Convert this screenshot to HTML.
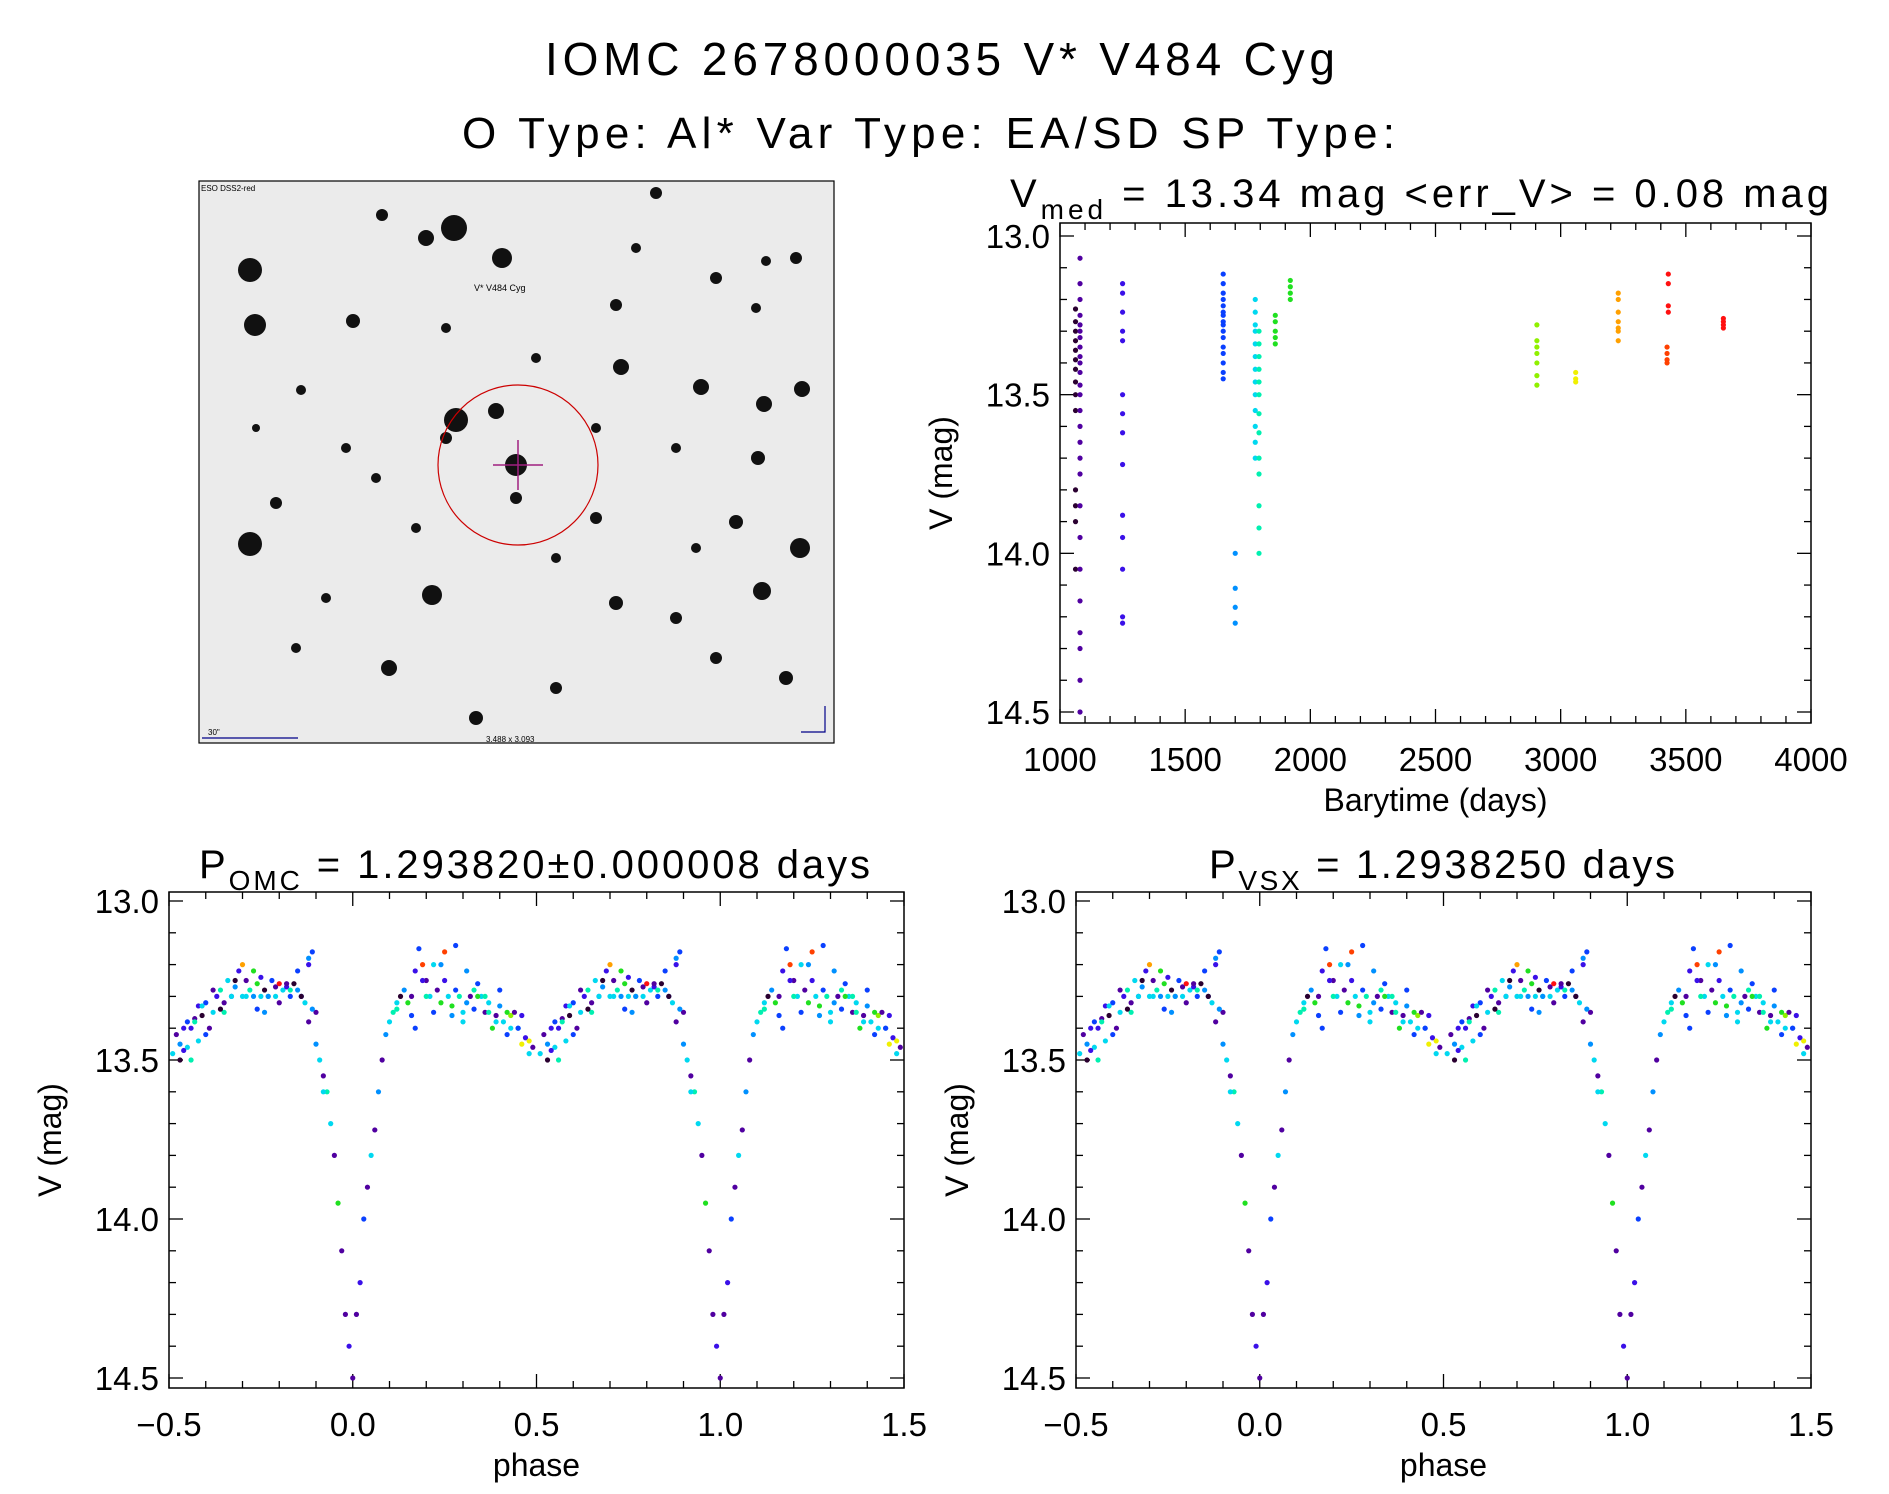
<!DOCTYPE html>
<html><head><meta charset="utf-8"><style>
body{margin:0;background:#fff}
svg{display:block}
text{font-family:"Liberation Sans",sans-serif;fill:#000}
</style></head><body>
<svg id="fig" width="1889" height="1494" viewBox="0 0 1889 1494" xmlns="http://www.w3.org/2000/svg">
<text x="545" y="75" font-size="46" textLength="790" lengthAdjust="spacing">IOMC 2678000035    V* V484 Cyg</text>
<text x="462" y="148" font-size="44" textLength="933" lengthAdjust="spacing">O Type: Al*  Var Type: EA/SD  SP Type:</text>
<g id="img"></g>
<g id="p1"></g>
<g id="p2"></g>
<g id="p3"></g>
</svg>
<script>
const NS="http://www.w3.org/2000/svg";
const colors=["#2a0030","#5000a0","#3a10e8","#0a40ff","#0090ff","#00d8f0","#00f0b0","#20e020","#90f000","#f0f000","#ffa000","#ff4000","#ff1010"];
// time series data
const tsTimes=[1062,1062,1062,1062,1062,1062,1062,1062,1062,1062,1062,1062,1062,1062,
1080,1080,1080,1080,1080,1080,1080,1080,1080,1080,1080,1080,1080,1080,1080,1080,1080,1080,1080,1080,1080,1080,1080,1080,1080,1080,
1250,1250,1250,1250,1250,1250,1250,1250,1250,1250,1250,1250,1250,1250,
1652,1652,1652,1652,1652,1652,1652,1652,1652,1652,1652,1652,1652,1652,1652,1652,
1700,1700,1700,1700,
1780,1780,1780,1780,1780,1780,1780,1780,1780,1780,1780,1780,1780,
1795,1795,1795,1795,1795,1795,1795,1795,1795,1795,1795,1795,1795,
1860,1860,1860,1860,1860,1920,1920,1920,1920,
2905,2905,2905,2905,2905,2905,2905,3060,3060,3060,
3230,3230,3230,3230,3230,3230,3230,3425,3425,3425,3425,3430,3430,3430,3430,3650,3650,3650,3650];
const tsMags=[13.23,13.27,13.3,13.33,13.36,13.39,13.42,13.46,13.5,13.55,13.8,13.85,13.9,14.05,
13.07,13.15,13.2,13.25,13.28,13.3,13.32,13.35,13.38,13.4,13.43,13.47,13.5,13.55,13.6,13.65,13.7,13.75,13.85,13.95,14.05,14.15,14.25,14.3,14.4,14.5,
13.15,13.18,13.24,13.3,13.33,13.5,13.56,13.62,13.72,13.88,13.95,14.05,14.2,14.22,
13.12,13.15,13.18,13.2,13.22,13.25,13.27,13.3,13.32,13.35,13.37,13.4,13.43,13.45,13.28,13.24,
14.0,14.11,14.17,14.22,
13.2,13.24,13.28,13.3,13.34,13.38,13.42,13.46,13.5,13.55,13.6,13.65,13.7,
13.3,13.34,13.38,13.42,13.46,13.5,13.56,13.62,13.7,13.75,13.85,13.92,14.0,
13.25,13.27,13.3,13.32,13.34,13.14,13.16,13.18,13.2,
13.28,13.33,13.35,13.37,13.4,13.44,13.47,13.43,13.45,13.46,
13.18,13.2,13.24,13.27,13.29,13.3,13.33,13.35,13.37,13.39,13.4,13.12,13.15,13.22,13.24,13.26,13.27,13.28,13.29];
const tsGroup=[0,0,0,0,0,0,0,0,0,0,0,0,0,0,1,1,1,1,1,1,1,1,1,1,1,1,1,1,1,1,1,1,1,1,1,1,1,1,1,1,
2,2,2,2,2,2,2,2,2,2,2,2,2,2,3,3,3,3,3,3,3,3,3,3,3,3,3,3,3,3,4,4,4,4,
5,5,5,5,5,5,5,5,5,5,5,5,5,6,6,6,6,6,6,6,6,6,6,6,6,6,7,7,7,7,7,7,7,7,7,
8,8,8,8,8,8,8,9,9,9,10,10,10,10,10,10,10,11,11,11,11,12,12,12,12,12,12,12,12];
const tsXTicks=[1000,1500,2000,2500,3000,3500,4000];
const magTicks=[13.0,13.5,14.0,14.5];
// phase-folded data (phase in [-0.5,0.5))
const phPhase=[-0.49,-0.48,-0.47,-0.46,-0.45,-0.45,-0.44,-0.43,-0.42,-0.42,-0.41,-0.4,-0.39,-0.38,-0.37,-0.36,-0.35,-0.34,-0.33,-0.32,-0.31,-0.3,-0.3,-0.29,-0.28,-0.27,-0.26,-0.25,-0.25,-0.24,-0.23,-0.22,-0.21,-0.2,-0.19,-0.18,-0.17,-0.16,-0.15,-0.14,-0.13,-0.12,-0.12,-0.11,-0.1,-0.1,-0.09,-0.08,-0.07,-0.06,-0.05,-0.04,-0.03,-0.02,-0.01,0.0,0.01,0.02,0.03,0.04,0.05,0.06,0.07,0.08,0.09,0.1,0.11,0.12,0.13,0.14,0.15,0.16,0.17,0.18,0.19,0.2,0.21,0.22,0.23,0.24,0.25,0.26,0.27,0.28,0.29,0.3,0.31,0.32,0.33,0.34,0.35,0.36,0.37,0.38,0.39,0.4,0.41,0.42,0.43,0.44,0.45,0.46,0.47,0.48,0.49,
-0.47,-0.44,-0.41,-0.38,-0.35,-0.32,-0.29,-0.26,-0.23,-0.2,-0.17,-0.14,-0.11,-0.08,0.12,0.16,0.19,0.22,0.25,0.28,0.31,0.34,0.37,0.4,0.43,0.46,
-0.46,-0.43,-0.4,-0.36,-0.33,-0.27,-0.24,-0.21,-0.18,-0.15,-0.12,0.17,0.2,0.24,0.27,0.3,0.33,0.36,0.39,0.42,0.45,0.48];
const phMag=[13.48,13.42,13.45,13.4,13.46,13.38,13.5,13.37,13.44,13.33,13.36,13.32,13.4,13.35,13.3,13.28,13.32,13.25,13.3,13.27,13.22,13.3,13.2,13.25,13.28,13.3,13.26,13.24,13.3,13.28,13.3,13.25,13.27,13.26,13.28,13.27,13.3,13.26,13.28,13.3,13.32,13.2,13.38,13.16,13.35,13.45,13.5,13.55,13.6,13.7,13.8,13.95,14.1,14.3,14.4,14.5,14.3,14.2,14.0,13.9,13.8,13.72,13.6,13.5,13.42,13.38,13.35,13.32,13.3,13.28,13.32,13.3,13.22,13.15,13.2,13.25,13.3,13.35,13.28,13.2,13.25,13.3,13.33,13.28,13.3,13.35,13.32,13.3,13.28,13.26,13.3,13.35,13.32,13.4,13.36,13.33,13.38,13.42,13.36,13.35,13.4,13.45,13.43,13.48,13.46,
13.5,13.4,13.33,13.28,13.35,13.25,13.3,13.34,13.3,13.32,13.28,13.3,13.34,13.6,13.34,13.36,13.25,13.2,13.16,13.14,13.22,13.3,13.35,13.28,13.4,13.36,
13.47,13.38,13.42,13.34,13.3,13.22,13.35,13.3,13.26,13.22,13.18,13.4,13.3,13.32,13.36,13.38,13.34,13.3,13.38,13.35,13.4,13.44];
const phGroup=[5,1,4,2,5,3,6,1,5,2,0,3,1,5,2,6,1,5,3,4,2,5,10,1,6,4,7,2,5,0,6,3,1,12,5,2,3,0,4,3,5,2,1,3,1,4,5,1,6,5,1,7,1,1,2,1,1,2,3,1,5,1,4,1,4,5,6,5,0,4,7,1,2,3,11,1,5,3,1,4,2,5,7,3,6,5,4,1,6,3,5,1,5,7,1,4,5,3,8,1,4,9,2,5,1,
0,2,5,1,6,0,5,3,4,1,6,0,4,5,6,3,2,5,11,3,4,7,6,3,5,2,
2,6,3,0,5,7,4,5,1,3,4,3,6,7,4,5,3,6,5,7,3,9];
const phXTicks=[-0.5,0.0,0.5,1.0,1.5];

function el(tag,attrs,parent){const e=document.createElementNS(NS,tag);for(const k in attrs)e.setAttribute(k,attrs[k]);parent.appendChild(e);return e;}
function txt(parent,x,y,s,size,anchor,name){const t=el('text',{x:x,y:y,'font-size':size,'text-anchor':anchor||'middle'},parent);t.textContent=s;return t;}

function panel(g,box,xr,yr,xMajor,xMinor,xFmt,xTicks,xlabel){
  const sx=v=>box.l+(v-xr[0])/(xr[1]-xr[0])*(box.r-box.l);
  const sy=v=>box.y0+(v-yr[0])/(yr[1]-yr[0])*(box.y1-box.y0);
  const frame=el('rect',{x:box.l,y:box.t,width:box.r-box.l,height:box.b-box.t,fill:'none',stroke:'#000','stroke-width':1.5},g);
  
  
  for(let v=xr[0];v<=xr[1]+1e-9;v+=xMinor){
    const major=Math.abs(Math.round(v/xMajor)*xMajor-v)<1e-6;const L=major?14:7;const x=sx(v);
    el('line',{x1:x,x2:x,y1:box.b,y2:box.b-L,stroke:'#000','stroke-width':1.3},g);
    el('line',{x1:x,x2:x,y1:box.t,y2:box.t+L,stroke:'#000','stroke-width':1.3},g);
  }
  xTicks.forEach(v=>txt(g,sx(v),box.b+48,xFmt(v),33,'middle','x-tick-label'));
  for(let i=0;i<=15;i++){
    const v=13.0+i*0.1;const major=i%5==0;const L=major?14:7;const y=sy(v);
    el('line',{x1:box.l,x2:box.l+L,y1:y,y2:y,stroke:'#000','stroke-width':1.3},g);
    el('line',{x1:box.r,x2:box.r-L,y1:y,y2:y,stroke:'#000','stroke-width':1.3},g);
  }
  magTicks.forEach(v=>txt(g,box.l-10,sy(v)+12,v.toFixed(1),33,'end','y-tick-label'));
  txt(g,(box.l+box.r)/2,box.b+88,xlabel,32,'middle','x-axis-title');
  const yl=txt(g,0,0,'V (mag)',32,'middle','y-axis-title');
  yl.setAttribute('transform',`translate(${box.l-108},${(box.t+box.b)/2}) rotate(-90)`);
  return {sx,sy};
}
function dot(g,x,y,c){const d=el('circle',{cx:x,cy:y,r:2.6,fill:c},g);}

// time series
const g1=document.getElementById('p1');
const a1=panel(g1,{l:1060,r:1811,t:223,b:723,y0:236,y1:712},[1000,4000],[13.0,14.5],500,100,v=>String(v),tsXTicks,'Barytime (days)');
for(let i=0;i<tsTimes.length;i++)dot(g1,a1.sx(tsTimes[i]),a1.sy(tsMags[i]),colors[tsGroup[i]]);
const t1=txt(g1,1010,207,'',40,'start','vmed-title');
t1.setAttribute('textLength','819');t1.setAttribute('lengthAdjust','spacing');
t1.innerHTML='V<tspan font-size="28" dy="12">med</tspan><tspan dy="-12">  =  13.34  mag  &lt;err_V&gt;  =  0.08  mag</tspan>';

function phasePanel(id,l,r,title,sub,tx,tl){
  const g=document.getElementById(id);
  const a=panel(g,{l:l,r:r,t:892,b:1388,y0:901,y1:1378},[-0.5,1.5],[13.0,14.5],0.5,0.1,v=>(v<0?'\u2212':'')+Math.abs(v).toFixed(1),phXTicks,'phase');
  for(let i=0;i<phPhase.length;i++){
    [phPhase[i],phPhase[i]+1].forEach(p=>{if(p>=-0.5&&p<=1.5)dot(g,a.sx(p),a.sy(phMag[i]),colors[phGroup[i]]);});
  }
  const t=txt(g,tx,878,'',40,'start','period-title');
  t.setAttribute('textLength',tl);t.setAttribute('lengthAdjust','spacing');
  t.innerHTML='P<tspan font-size="28" dy="12">'+sub+'</tspan><tspan dy="-12">  =  '+title+'</tspan>';
}
phasePanel('p2',169,904,'1.293820\u00b10.000008  days','OMC',199,671);
phasePanel('p3',1076,1811,'1.2938250  days','VSX',1209,466);

// sky image
const gi=document.getElementById('img');
const bg=el('rect',{x:199,y:181,width:635,height:562,fill:'#ebebeb'},gi);

const stars=[[254,272,12],[259,327,11],[254,546,12],[804,550,10],[458,230,13],[506,260,10],[430,240,8],[460,422,12],[520,467,11],[500,413,8],[357,323,7],[436,597,10],[393,670,8],[625,369,8],[705,389,8],[768,406,8],[806,391,8],[762,460,7],[766,593,9],[740,524,7],[620,307,6],[386,217,6],[660,195,6],[770,263,5],[305,392,5],[280,505,6],[620,605,7],[680,620,6],[720,660,6],[520,500,6],[450,440,6],[540,360,5],[300,650,5],[330,600,5],[700,550,5],[600,520,6],[790,680,7],[560,690,6],[480,720,7],[420,530,5],[380,480,5],[680,450,5],[640,250,5],[720,280,6],[260,430,4],[350,450,5],[600,430,5],[560,560,5],[760,310,5],[450,330,5],[800,260,6]];
stars.forEach(s=>{const c=el('circle',{cx:s[0]-4,cy:s[1]-2,r:s[2],fill:'#111'},gi);});
el('rect',{x:199,y:181,width:635,height:562,fill:'none',stroke:'#000','stroke-width':1.2},gi);
el('circle',{cx:518,cy:465,r:80,fill:'none',stroke:'#c00','stroke-width':1.2},gi);
el('line',{x1:493,x2:543,y1:465,y2:465,stroke:'#a02080','stroke-width':1.5},gi);
el('line',{x1:518,x2:518,y1:440,y2:490,stroke:'#a02080','stroke-width':1.5},gi);
txt(gi,474,291,'V* V484 Cyg',9,'start','target-label').setAttribute('fill','#c00');
txt(gi,201,191,'ESO DSS2-red',8,'start','survey-label').setAttribute('fill','#008');
el('line',{x1:202,x2:298,y1:738,y2:738,stroke:'#008','stroke-width':1.2},gi);
txt(gi,208,735,'30"',8,'start','scale-label').setAttribute('fill','#008');
txt(gi,486,742,'3.488 x 3.093',8,'start','size-label').setAttribute('fill','#008');
el('polyline',{points:'825,706 825,732 801,732',fill:'none',stroke:'#008','stroke-width':1.2},gi);
</script>
</body></html>
